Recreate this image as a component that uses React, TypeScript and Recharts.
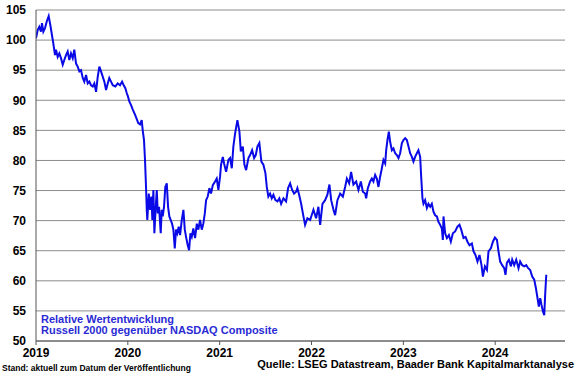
import React from "react";
import { LineChart, Line, XAxis, YAxis, CartesianGrid } from "recharts";

// Time positions as decimal years
const dates: number[] = [
  // 2019
  2019.0, 2019.019, 2019.036, 2019.054, 2019.065, 2019.08, 2019.098, 2019.117, 2019.138, 2019.156,
  2019.174, 2019.188, 2019.207, 2019.218, 2019.236, 2019.254, 2019.272, 2019.291, 2019.308, 2019.327,
  2019.345, 2019.363, 2019.381, 2019.4, 2019.417, 2019.436, 2019.454, 2019.472, 2019.49, 2019.509,
  2019.526, 2019.545, 2019.563, 2019.581, 2019.599, 2019.618, 2019.635, 2019.654, 2019.672, 2019.69,
  2019.708, 2019.727, 2019.744, 2019.763, 2019.781, 2019.798, 2019.817, 2019.836, 2019.864, 2019.89,
  2019.915, 2019.937, 2019.955, 2019.973, 2019.988,
  // 2020
  2020.002, 2020.016, 2020.035, 2020.053, 2020.078, 2020.114, 2020.133, 2020.151, 2020.162, 2020.176,
  2020.187, 2020.198, 2020.206, 2020.212, 2020.228, 2020.242, 2020.256, 2020.267, 2020.278, 2020.289,
  2020.304, 2020.315, 2020.326, 2020.34, 2020.358, 2020.369, 2020.38, 2020.394, 2020.408, 2020.424,
  2020.438, 2020.452, 2020.467, 2020.481, 2020.496, 2020.511, 2020.525, 2020.539, 2020.554, 2020.569,
  2020.587, 2020.605, 2020.62, 2020.634, 2020.652, 2020.667, 2020.681, 2020.696, 2020.713, 2020.732,
  2020.751, 2020.768, 2020.786, 2020.805, 2020.822, 2020.838, 2020.852, 2020.87, 2020.888, 2020.906,
  2020.925, 2020.95, 2020.968, 2020.986,
  // 2021
  2021.004, 2021.015, 2021.034, 2021.048, 2021.07, 2021.095, 2021.113, 2021.132, 2021.149, 2021.168,
  2021.193, 2021.215, 2021.23, 2021.252, 2021.269, 2021.288, 2021.313, 2021.331, 2021.353, 2021.375,
  2021.393, 2021.411, 2021.432, 2021.454, 2021.476, 2021.498, 2021.513, 2021.53, 2021.549, 2021.567,
  2021.585, 2021.607, 2021.629, 2021.65, 2021.669, 2021.694, 2021.723, 2021.745, 2021.767, 2021.789,
  2021.81, 2021.832, 2021.846, 2021.865, 2021.887, 2021.912, 2021.93, 2021.955, 2021.985,
  // 2022
  2022.021, 2022.05, 2022.075, 2022.094, 2022.119, 2022.148, 2022.173, 2022.195, 2022.214, 2022.239,
  2022.257, 2022.282, 2022.312, 2022.341, 2022.366, 2022.385, 2022.41, 2022.431, 2022.456, 2022.486,
  2022.511, 2022.537, 2022.559, 2022.584, 2022.595, 2022.613, 2022.638, 2022.657, 2022.674, 2022.693,
  2022.711, 2022.729, 2022.747, 2022.766, 2022.783, 2022.802, 2022.813, 2022.827, 2022.842, 2022.856,
  2022.875, 2022.892, 2022.911, 2022.929, 2022.947, 2022.965, 2022.984,
  // 2023
  2023.001, 2023.02, 2023.038, 2023.056, 2023.074, 2023.093, 2023.11, 2023.128, 2023.147, 2023.164,
  2023.183, 2023.194, 2023.208, 2023.219, 2023.237, 2023.256, 2023.273, 2023.292, 2023.31, 2023.328,
  2023.346, 2023.365, 2023.382, 2023.401, 2023.419, 2023.43, 2023.437, 2023.455, 2023.474, 2023.496,
  2023.517, 2023.539, 2023.564, 2023.589, 2023.611, 2023.63, 2023.655, 2023.677, 2023.698, 2023.72,
  2023.746, 2023.764, 2023.785, 2023.807, 2023.829, 2023.851, 2023.866, 2023.888, 2023.91, 2023.927,
  2023.953, 2023.975, 2023.997,
  // 2024
  2024.019, 2024.036, 2024.054, 2024.076, 2024.098, 2024.112, 2024.127, 2024.149, 2024.171, 2024.185,
  2024.207, 2024.229, 2024.254, 2024.272, 2024.294, 2024.316, 2024.338, 2024.359, 2024.381, 2024.403,
  2024.425, 2024.443, 2024.461, 2024.475, 2024.49, 2024.504, 2024.52, 2024.534, 2024.545, 2024.556,
];

// Relative performance Russell 2000 vs NASDAQ Composite
const values: number[] = [
  // 2019
  100.3, 101.7, 102.2, 101.4, 102.8, 101.4, 102.0, 103.1, 104.0, 102.5,
  100.8, 99.5, 97.5, 98.4, 97.2, 97.8, 97.0, 95.9, 96.7, 97.5,
  98.1, 96.7, 97.8, 97.0, 98.4, 96.1, 95.6, 94.8, 95.0, 93.7,
  93.1, 94.2, 92.8, 93.1, 92.5, 92.3, 92.8, 91.4, 93.9, 95.6,
  94.8, 93.9, 93.1, 91.7, 92.8, 93.7, 93.1, 92.5, 92.3, 92.8,
  92.5, 93.1, 92.5, 92.0, 91.2,
  // 2020
  90.6, 89.8, 89.2, 88.5, 87.6, 86.2, 86.0, 86.7, 85.0, 83.4,
  80.1, 75.6, 71.8, 70.1, 74.5, 71.8, 74.0, 70.1, 75.1, 67.9,
  72.3, 75.1, 71.2, 72.3, 67.9, 71.8, 70.7, 72.3, 75.6, 76.2,
  72.3, 70.7, 70.1, 69.5, 68.5, 65.4, 68.5, 67.9, 69.0, 67.6,
  70.1, 71.8, 68.5, 67.3, 65.9, 65.1, 67.9, 67.3, 68.7, 67.1,
  69.5, 68.5, 70.1, 68.5, 69.5, 71.2, 73.4, 74.0, 75.4, 74.5,
  75.9, 76.5, 77.0, 75.1,
  // 2021
  77.3, 79.3, 80.6, 79.5, 78.1, 80.1, 80.4, 78.7, 82.3, 84.5,
  86.7, 84.8, 81.5, 82.3, 79.3, 78.4, 80.4, 80.9, 81.7, 80.4,
  80.9, 82.3, 82.9, 79.8, 79.3, 77.9, 75.6, 74.0, 74.5, 73.7,
  74.3, 73.4, 73.2, 73.7, 72.8, 73.7, 73.2, 75.4, 76.2, 75.1,
  74.5, 74.8, 75.4, 74.3, 72.8, 70.7, 69.3, 70.4, 70.1,
  // 2022
  71.8, 70.4, 72.3, 69.3, 72.8, 73.4, 74.3, 76.0, 73.4, 71.8,
  70.9, 73.4, 74.5, 74.0, 75.6, 77.0, 76.2, 78.1, 76.0, 76.5,
  75.1, 76.5, 74.8, 74.5, 73.7, 75.4, 76.5, 77.0, 76.5, 77.6,
  77.0, 75.6, 77.3, 78.7, 80.1, 79.5, 81.7, 83.4, 84.8, 83.1,
  81.7, 82.0, 81.2, 80.9, 80.4, 81.2, 82.9,
  // 2023
  83.4, 83.7, 83.4, 82.3, 81.2, 80.6, 79.8, 80.6, 81.2, 81.7,
  80.6, 77.3, 73.7, 72.8, 73.4, 72.1, 72.8, 72.3, 72.8, 71.5,
  70.9, 70.7, 69.8, 69.3, 68.7, 66.8, 70.7, 67.9, 67.1, 67.6,
  66.5, 67.9, 68.2, 69.0, 69.3, 68.5, 67.1, 67.3, 66.5, 65.9,
  66.2, 64.9, 64.3, 63.2, 64.3, 62.6, 60.7, 62.4, 61.8, 64.9,
  65.4, 66.5, 67.2,
  // 2024
  66.8, 64.9, 63.2, 62.6, 62.1, 61.0, 63.0, 63.5, 62.4, 63.5,
  62.6, 63.5, 62.1, 63.2, 62.6, 62.4, 62.6, 62.1, 61.8, 60.7,
  60.2, 58.8, 57.1, 55.7, 57.1, 56.0, 54.9, 54.3, 58.0, 61.0,
];

const xTicks: number[] = [2019, 2020, 2021, 2022, 2023, 2024];
const yTicks: number[] = [50, 55, 60, 65, 70, 75, 80, 85, 90, 95, 100, 105];
const xDomain: [number, number] = [2019, 2024.76];
const yDomain: [number, number] = [50, 105];

const data = dates.map((d, i) => ({ t: d, v: values[i] }));

const FONT = "'Liberation Sans', Arial, sans-serif";
const tickStyle = { fontFamily: FONT, fontSize: 12, fontWeight: 700, fill: "#000" };

export default function App() {
  return (
    <div style={{ position: "absolute", left: 0, top: 0, width: 580, height: 375, background: "#fff", fontFamily: FONT }}>
      <LineChart width={580} height={375} data={data} margin={{ top: 10, right: 15, bottom: 14, left: 0 }}>
        <CartesianGrid vertical={false} stroke="#8c8c8c" strokeWidth={1} yAxisId="left" />
        <XAxis
          dataKey="t"
          type="number"
          domain={xDomain}
          ticks={xTicks}
          allowDataOverflow
          height={20}
          tick={tickStyle}
          tickSize={4}
          tickMargin={3}
          axisLine={{ stroke: "#555", strokeWidth: 1 }}
          tickLine={{ stroke: "#555" }}
        />
        <YAxis
          yAxisId="left"
          domain={yDomain}
          ticks={yTicks}
          width={36}
          tick={tickStyle}
          tickSize={0}
          tickMargin={10}
          axisLine={{ stroke: "#555", strokeWidth: 1 }}
          tickLine={false}
          interval={0}
        />
        <YAxis
          yAxisId="right"
          orientation="right"
          domain={yDomain}
          width={0}
          tick={false}
          tickLine={false}
          axisLine={{ stroke: "#555", strokeWidth: 1 }}
        />
        <Line
          yAxisId="left"
          dataKey="v"
          type="linear"
          stroke="#0a0ae6"
          strokeWidth={2}
          dot={false}
          isAnimationActive={false}
        />
      </LineChart>
      <div style={{ position: "absolute", left: 41, top: 314, color: "#2b2bd4", fontSize: 11, fontWeight: 700, lineHeight: "11px", whiteSpace: "nowrap" }}>
        <div>Relative Wertentwicklung</div>
        <div>Russell 2000 gegenüber NASDAQ Composite</div>
      </div>
      <div style={{ position: "absolute", left: 2, top: 363, color: "#000", fontSize: 8.5, fontWeight: 700, lineHeight: "10px", whiteSpace: "nowrap" }}>
        Stand: aktuell zum Datum der Veröffentlichung
      </div>
      <div style={{ position: "absolute", right: 6, top: 358, color: "#000", fontSize: 11, fontWeight: 700, lineHeight: "13px", whiteSpace: "nowrap" }}>
        Quelle: LSEG Datastream, Baader Bank Kapitalmarktanalyse
      </div>
    </div>
  );
}
